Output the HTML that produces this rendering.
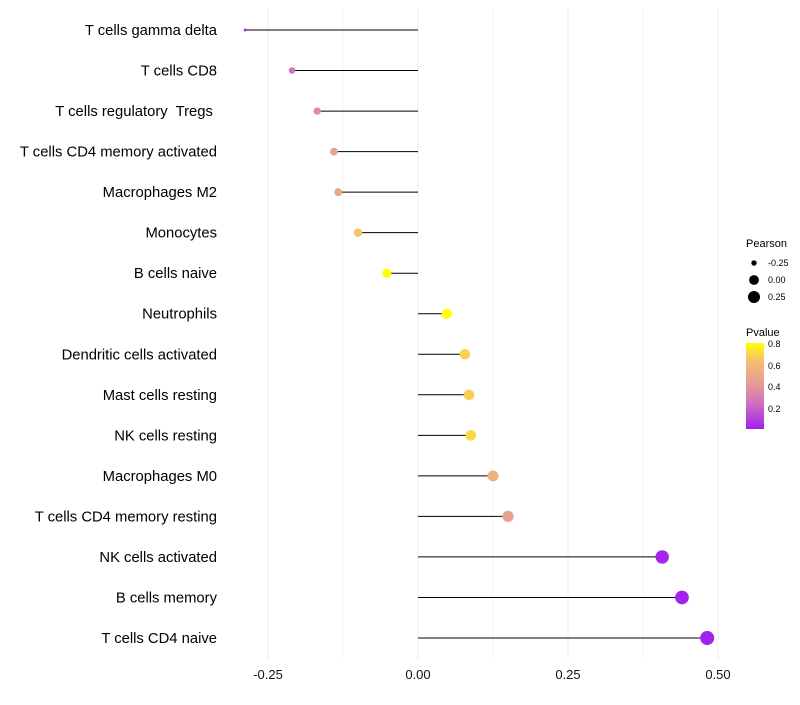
<!DOCTYPE html>
<html><head><meta charset="utf-8"><style>
body{margin:0;background:#fff;font-family:"Liberation Sans",sans-serif}
text{white-space:pre}
</style></head><body>
<svg width="800" height="700" xmlns="http://www.w3.org/2000/svg">
<defs><linearGradient id="pg" x1="0" y1="1" x2="0" y2="0">
<stop offset="0" stop-color="#A020F0"/><stop offset="0.3" stop-color="#D070C0"/><stop offset="0.55" stop-color="#E8A090"/><stop offset="0.8" stop-color="#F5C070"/><stop offset="1" stop-color="#FFFF00"/></linearGradient></defs>
<g id="grid"></g><g id="marks"></g><g id="labels"></g><g id="ticks"></g>
<g font-size="10">
<text x="746" y="247" font-size="11">Pearson</text>
<circle cx="754" cy="263" r="2.7" fill="#000"/><text x="768" y="266" font-size="9">-0.25</text>
<circle cx="754" cy="280" r="4.9" fill="#000"/><text x="768" y="283" font-size="9">0.00</text>
<circle cx="754" cy="297" r="6" fill="#000"/><text x="768" y="300" font-size="9">0.25</text>
<text x="746" y="336" font-size="11">Pvalue</text>
<rect x="746" y="343" width="18" height="86" fill="url(#pg)"/>
<text x="768" y="347" font-size="9">0.8</text><text x="768" y="369" font-size="9">0.6</text>
<text x="768" y="390" font-size="9">0.4</text><text x="768" y="412" font-size="9">0.2</text>
</g>
</svg>
<script>
const categories=["T cells gamma delta","T cells CD8","T cells regulatory  Tregs ","T cells CD4 memory activated","Macrophages M2","Monocytes","B cells naive","Neutrophils","Dendritic cells activated","Mast cells resting","NK cells resting","Macrophages M0","T cells CD4 memory resting","NK cells activated","B cells memory","T cells CD4 naive"];
const pearson=[-0.288,-0.21,-0.168,-0.14,-0.133,-0.1,-0.052,0.048,0.078,0.085,0.088,0.125,0.15,0.407,0.44,0.482];
const pvalue=[0.05,0.25,0.35,0.45,0.47,0.65,0.8,0.8,0.68,0.68,0.7,0.55,0.45,0.02,0.01,0.005];
const xTicks=[-0.25,0,0.25,0.5];
const xTickLabels=["-0.25","0.00","0.25","0.50"];
const NS="http://www.w3.org/2000/svg";
const xs=v=>418+v*600;
const ys=i=>30+i*(608/15);
function col(p){const stops=[[0,[160,32,240]],[0.24,[208,112,192]],[0.44,[232,160,144]],[0.64,[245,192,112]],[0.8,[255,255,0]]];
 p=Math.max(0,Math.min(0.8,p));for(let k=1;k<stops.length;k++){if(p<=stops[k][0]){const a=stops[k-1],b=stops[k],t=(p-a[0])/(b[0]-a[0]);return`rgb(${a[1].map((c,j)=>Math.round(c+(b[1][j]-c)*t)).join(',')})`;}}return"rgb(255,255,0)";}
const pmin=Math.min(...pearson),pmax=Math.max(...pearson);
const rs=v=>1.5+5.5*Math.sqrt(Math.max(0,(v-pmin)/(pmax-pmin)));
function mk(t,a,p){const e=document.createElementNS(NS,t);for(const k in a)e.setAttribute(k,a[k]);document.getElementById(p).appendChild(e);return e;}
[-0.25,-0.125,0,0.125,0.25,0.375,0.5].forEach(v=>{const l=mk('line',{x1:xs(v),x2:xs(v),y1:8,y2:660,stroke:'#efefef','stroke-width':Number.isInteger(v*4)?1:0.6},'grid');

});
categories.forEach((c,i)=>{
 const l=mk('line',{x1:xs(0),x2:xs(pearson[i]),y1:ys(i),y2:ys(i),stroke:'#000','stroke-width':1},'marks');
 
 
 const d=mk('circle',{cx:xs(pearson[i]),cy:ys(i),r:rs(pearson[i]),fill:col(pvalue[i])},'marks');
 
 
 const t=mk('text',{x:217,y:ys(i)+5,'text-anchor':'end','font-size':14.8,fill:'#000'},'labels');
 t.textContent=c;
 
 
});
xTicks.forEach((v,i)=>{const t=mk('text',{x:xs(v),y:679,'text-anchor':'middle','font-size':13,fill:'#111'},'ticks');t.textContent=xTickLabels[i];

});
</script>
</body></html>
